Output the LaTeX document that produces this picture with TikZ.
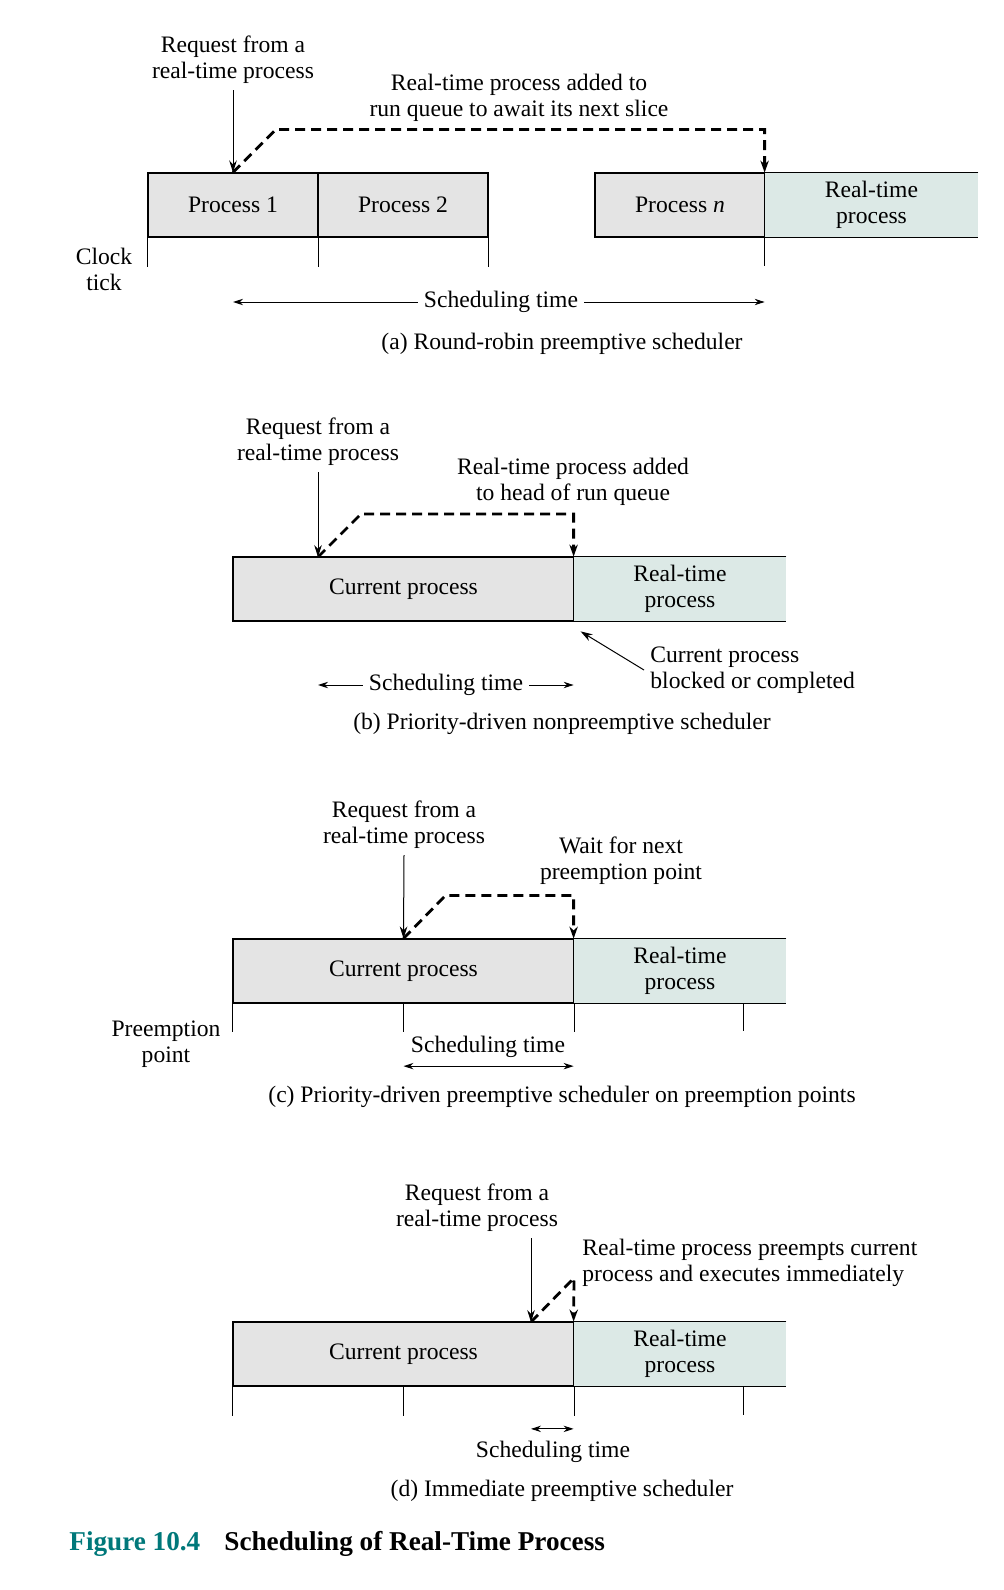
\documentclass[tikz,border=0pt]{standalone}
\usepackage{fontspec}
\setmainfont{Liberation Serif}
\usetikzlibrary{arrows.meta}
\definecolor{procgray}{HTML}{E4E4E4}
\definecolor{rtteal}{HTML}{DCE9E6}
\definecolor{figteal}{HTML}{00787A}

\begin{document}
\begin{tikzpicture}[x=0.5pt, y=-0.5pt,
    every node/.style={font=\fontsize{11.8}{13}\selectfont, inner sep=3pt, yshift=-1pt},
    procbox/.style={draw, line width=0.55pt, fill=procgray, minimum height=32pt, inner sep=0pt, yshift=0pt},
    rtbox/.style={fill=rtteal, minimum height=32pt, inner sep=0pt, align=center, yshift=0pt},
    tickline/.style={line width=0.55pt},
    reqarrow/.style={line width=0.5pt, -{Stealth[length=6pt,width=3.8pt]}},
    dasharrow/.style={line width=1.4pt, dash pattern=on 5pt off 3pt, -{Stealth[length=6pt,width=4.2pt]}},
    timearrow/.style={line width=0.5pt, -{Stealth[length=5pt,width=3.2pt]}},
    bothtime/.style={line width=0.5pt, {Stealth[length=5pt,width=3.2pt]}-{Stealth[length=5pt,width=3.2pt]}}]
  \useasboundingbox (0,0) rectangle (1004,1590);

  % (a) round-robin
  \node[procbox, minimum width=85pt] (p1a) at (233,203) {Process 1};
  \node[procbox, minimum width=85pt] (p2a) at (403,203) {Process 2};
  \node[procbox, minimum width=85pt] (pna) at (680,203) {Process \textit{n}};
  \node[rtbox, minimum width=106.5pt] (rta) at (871.5,203) {Real-time\\process};
  \draw[tickline] (rta.north east) -- (rta.north west) -- (rta.south west) -- (rta.south east);
  \foreach \t in {p1a.south west, p1a.south east, p2a.south east, rta.south west}
    \draw[tickline] (\t) -- ++(0,29);
  \node[align=center] (reqa) at (233,58) {Request from a\\real-time process};
  \draw[reqarrow] (reqa.south) -- (p1a.north);
  \node[align=center] (adda) at (519,96) {Real-time process added to\\run queue to await its next slice};
  \draw[dasharrow] (p1a.north) -- ++(43,-43) -| (rta.north west);
  \node[align=center] (clka) at (104,267) {Clock\\tick};
  \node (scha) at (501,300) {Scheduling time};
  \draw[timearrow] (scha.west) -- (scha.west -| p1a.north);
  \draw[timearrow] (scha.east) -- (scha.east -| rta.north west);
  \node (capa) at (562,342) {(a) Round-robin preemptive scheduler};

  % (b) nonpreemptive
  \node[procbox, minimum width=170.5pt] (curb) at (403.5,587) {Current process};
  \node[rtbox, minimum width=106pt] (rtb) at (680,587) {Real-time\\process};
  \draw[tickline] (rtb.north east) -- (rtb.north west) -- (rtb.south west) -- (rtb.south east);
  \coordinate (arrb) at (318,555);
  \node[align=center] (reqb) at (318,440) {Request from a\\real-time process};
  \draw[reqarrow] (reqb.south) -- (arrb);
  \node[align=center] (addb) at (573,480) {Real-time process added\\to head of run queue};
  \draw[dasharrow] (arrb) -- ++(43,-43) -| (rtb.north west);
  \node[align=left, anchor=west] (blkb) at (644,668) {Current process\\blocked or completed};
  \draw[reqarrow] (blkb.west) -- ([shift={(7,10)}]rtb.south west);
  \node (schb) at (446,683) {Scheduling time};
  \draw[timearrow] (schb.west) -- (schb.west -| arrb);
  \draw[timearrow] (schb.east) -- (schb.east -| rtb.north west);
  \node (capb) at (562,722) {(b) Priority-driven nonpreemptive scheduler};

  % (c) preemption points
  \node[procbox, minimum width=170.5pt] (curc) at (403.5,969) {Current process};
  \node[rtbox, minimum width=106pt] (rtc) at (680,969) {Real-time\\process};
  \draw[tickline] (rtc.north east) -- (rtc.north west) -- (rtc.south west) -- (rtc.south east);
  \foreach \t in {curc.south west, curc.south, curc.south east}
    \draw[tickline] (\t) -- ++(0,28);
  \draw[tickline] ([xshift=85pt]rtc.south west) -- ++(0,28);
  \node[align=center] (reqc) at (404,823) {Request from a\\real-time process};
  \draw[reqarrow] (reqc.south) -- (curc.north);
  \node[align=center] (waitc) at (621,859) {Wait for next\\preemption point};
  \draw[dasharrow] (curc.north) -- ++(42,-43) -| (rtc.north west);
  \node[align=center] (prec) at (166,1042) {Preemption\\point};
  \node[inner ysep=4pt] (schc) at (488,1045) {Scheduling time};
  \draw[bothtime] (schc.south -| curc.south) -- (schc.south -| rtc.south west);
  \node (capc) at (562,1095) {(c) Priority-driven preemptive scheduler on preemption points};

  % (d) immediate
  \node[procbox, minimum width=170.5pt] (curd) at (403.5,1352) {Current process};
  \node[rtbox, minimum width=106pt] (rtd) at (680,1352) {Real-time\\process};
  \draw[tickline] (rtd.north east) -- (rtd.north west) -- (rtd.south west) -- (rtd.south east);
  \foreach \t in {curd.south west, curd.south, curd.south east}
    \draw[tickline] (\t) -- ++(0,29);
  \draw[tickline] ([xshift=85pt]rtd.south west) -- ++(0,29);
  \coordinate (arrd) at (531,1320);
  \node[align=center] (reqd) at (477,1206) {Request from a\\real-time process};
  \draw[reqarrow] (reqd.south -| arrd) -- (arrd);
  \node[align=left, anchor=west] (prmd) at (576,1261) {Real-time process preempts current\\process and executes immediately};
  \draw[dasharrow] (arrd) -- ++(43,-44) -- (rtd.north west);
  \node[inner ysep=6pt] (schd) at (553,1450) {Scheduling time};
  \draw[bothtime] (schd.north -| arrd) -- (schd.north -| rtd.north west);
  \node (capd) at (562,1489) {(d) Immediate preemptive scheduler};

  % caption
  \node[font=\fontsize{13.6}{16}\selectfont\bfseries, text=figteal, anchor=west, inner sep=0pt] (fignum) at (69,1542) {Figure 10.4};
  \node[font=\fontsize{13.6}{16}\selectfont\bfseries, anchor=west, inner sep=0pt] (figtitle) at (224,1542) {Scheduling of Real-Time Process};
\end{tikzpicture}
\end{document}
